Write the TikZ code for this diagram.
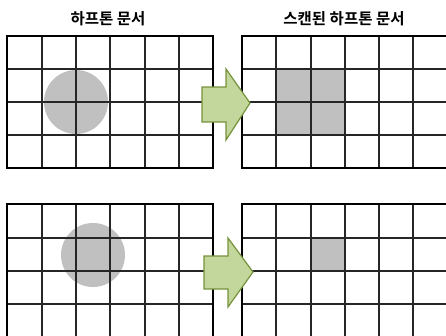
\documentclass[tikz,border=0pt]{standalone}
\usepackage{fontspec}
\newfontfamily\kr{Noto Sans CJK KR}[BoldFont={* Bold}]
\definecolor{dotgray}{HTML}{C0C0C0}
\definecolor{arrfill}{HTML}{C3D69B}
\definecolor{arrline}{HTML}{76923C}
\begin{document}
\begin{tikzpicture}[x=1pt,y=-1pt,
  gridline/.style={line width=1.2pt,draw=black!85},
  frame/.style={line width=1.9pt,draw=black},
  dot/.style={fill=dotgray},
  bigarrow/.style={fill=arrfill,draw=arrline,line width=1.2pt,line join=miter},
  title/.style={font=\kr\bfseries\fontsize{15.5}{17}\selectfont,inner sep=0pt,anchor=center}]
\useasboundingbox (0,0) rectangle (446,335);
\clip (0,0) rectangle (446,335);
% titles
\node[title] (t1) at (108,19) {하프톤 문서};
\node[title] (t2) at (344,19) {스캔된 하프톤 문서};
% --- top left
\fill[dot] (76,102) circle (32);
\foreach \x in {42,76,110,145,179} \draw[gridline] (\x,36) -- (\x,168);
\foreach \y in {69,102,135} \draw[gridline] (7,\y) -- (213,\y);
\draw[frame] (7,36) rectangle (213,168);
% --- top right
\fill[dot] (276,69) rectangle (345,135);
\foreach \x in {276,311,345,379,413} \draw[gridline] (\x,36) -- (\x,168);
\foreach \y in {69,102,135} \draw[gridline] (242,\y) -- (448,\y);
\draw[frame] (242,36) rectangle (448,168);
% --- bottom left
\fill[dot] (93,255) circle (32);
\foreach \x in {42,76,110,145,179} \draw[gridline] (\x,204) -- (\x,337);
\foreach \y in {238,271,304} \draw[gridline] (7,\y) -- (213,\y);
\draw[frame] (7,204) rectangle (213,337);
% --- bottom right
\fill[dot] (311,238) rectangle (345,271);
\foreach \x in {276,311,345,379,413} \draw[gridline] (\x,204) -- (\x,337);
\foreach \y in {238,271,304} \draw[gridline] (242,\y) -- (448,\y);
\draw[frame] (242,204) rectangle (448,337);
% arrows
\draw[bigarrow] (202,87) -- (226,87) -- (226,69) -- (250,103) -- (226,140) -- (226,122) -- (202,122) -- cycle;
\draw[bigarrow] (204,256) -- (228,256) -- (228,238) -- (253,272) -- (228,307) -- (228,289) -- (204,289) -- cycle;
\end{tikzpicture}
\end{document}
